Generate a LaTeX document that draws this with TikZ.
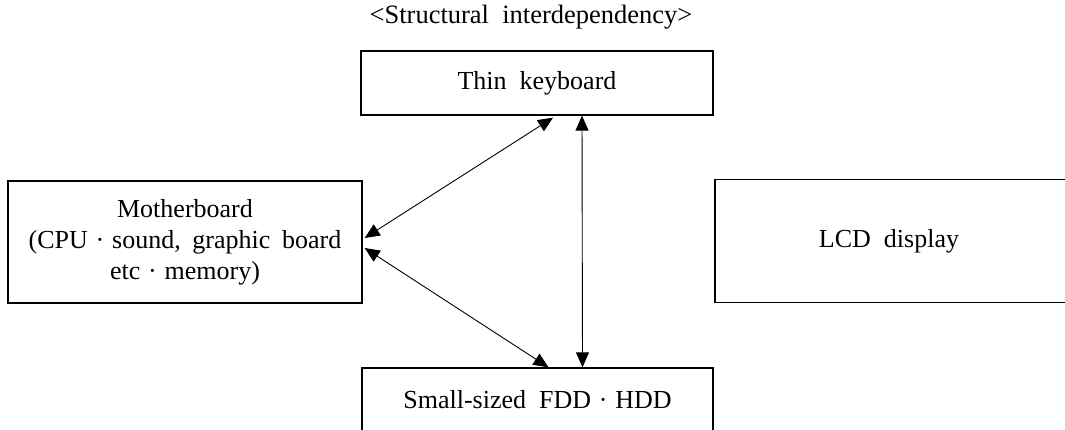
\documentclass[tikz,border=0pt]{standalone}
\usepackage{fontspec}
\setmainfont{Liberation Serif}
\usetikzlibrary{calc,arrows.meta}
\begin{document}
\begin{tikzpicture}[x=1pt,y=1pt,
  box/.style={draw,line width=1.3pt,inner sep=0pt,font=\fontsize{26}{31}\selectfont,align=center},
  link/.style={line width=0.9pt,{Triangle[length=15pt,width=13pt]}-{Triangle[length=15pt,width=13pt]}}]
\useasboundingbox (0,0) rectangle (1065,-430);
\begin{scope}
\clip (0,0) rectangle (1065,-430);
\node[font=\fontsize{26.5}{30}\selectfont] (title) at (531,-17) {<Structural\hspace{0.5em}interdependency>};
\node[box,minimum width=352pt,minimum height=64pt] (kb) at (537,-83) {Thin\hspace{0.5em}keyboard};
\node[box,minimum width=354pt,minimum height=122pt] (mb) at (185,-242) {Motherboard\\(CPU\hspace{0.3em}·\hspace{0.3em}sound,\hspace{0.45em}graphic\hspace{0.45em}board\\etc\hspace{0.3em}·\hspace{0.3em}memory)};
\node[box,minimum width=400pt,minimum height=123pt,text width=340pt] (lcd) at (915,-241) {\hspace*{-52pt}LCD\hspace{0.5em}display};
\node[box,minimum width=351pt,minimum height=64pt] (sb) at (537.5,-400) {Small-sized\hspace{0.5em}FDD\hspace{0.3em}·\hspace{0.3em}HDD};
\end{scope}
\draw[link] ($(kb.south)+(16,-2)$) -- ($(mb.east)+(2,4)$);
\draw[link] ($(mb.east)+(2,-6)$) -- ($(sb.north)+(11,0)$);
\draw[link] ($(kb.south)+(45,0)$) -- ($(sb.north)+(45,0)$);
\end{tikzpicture}
\end{document}
